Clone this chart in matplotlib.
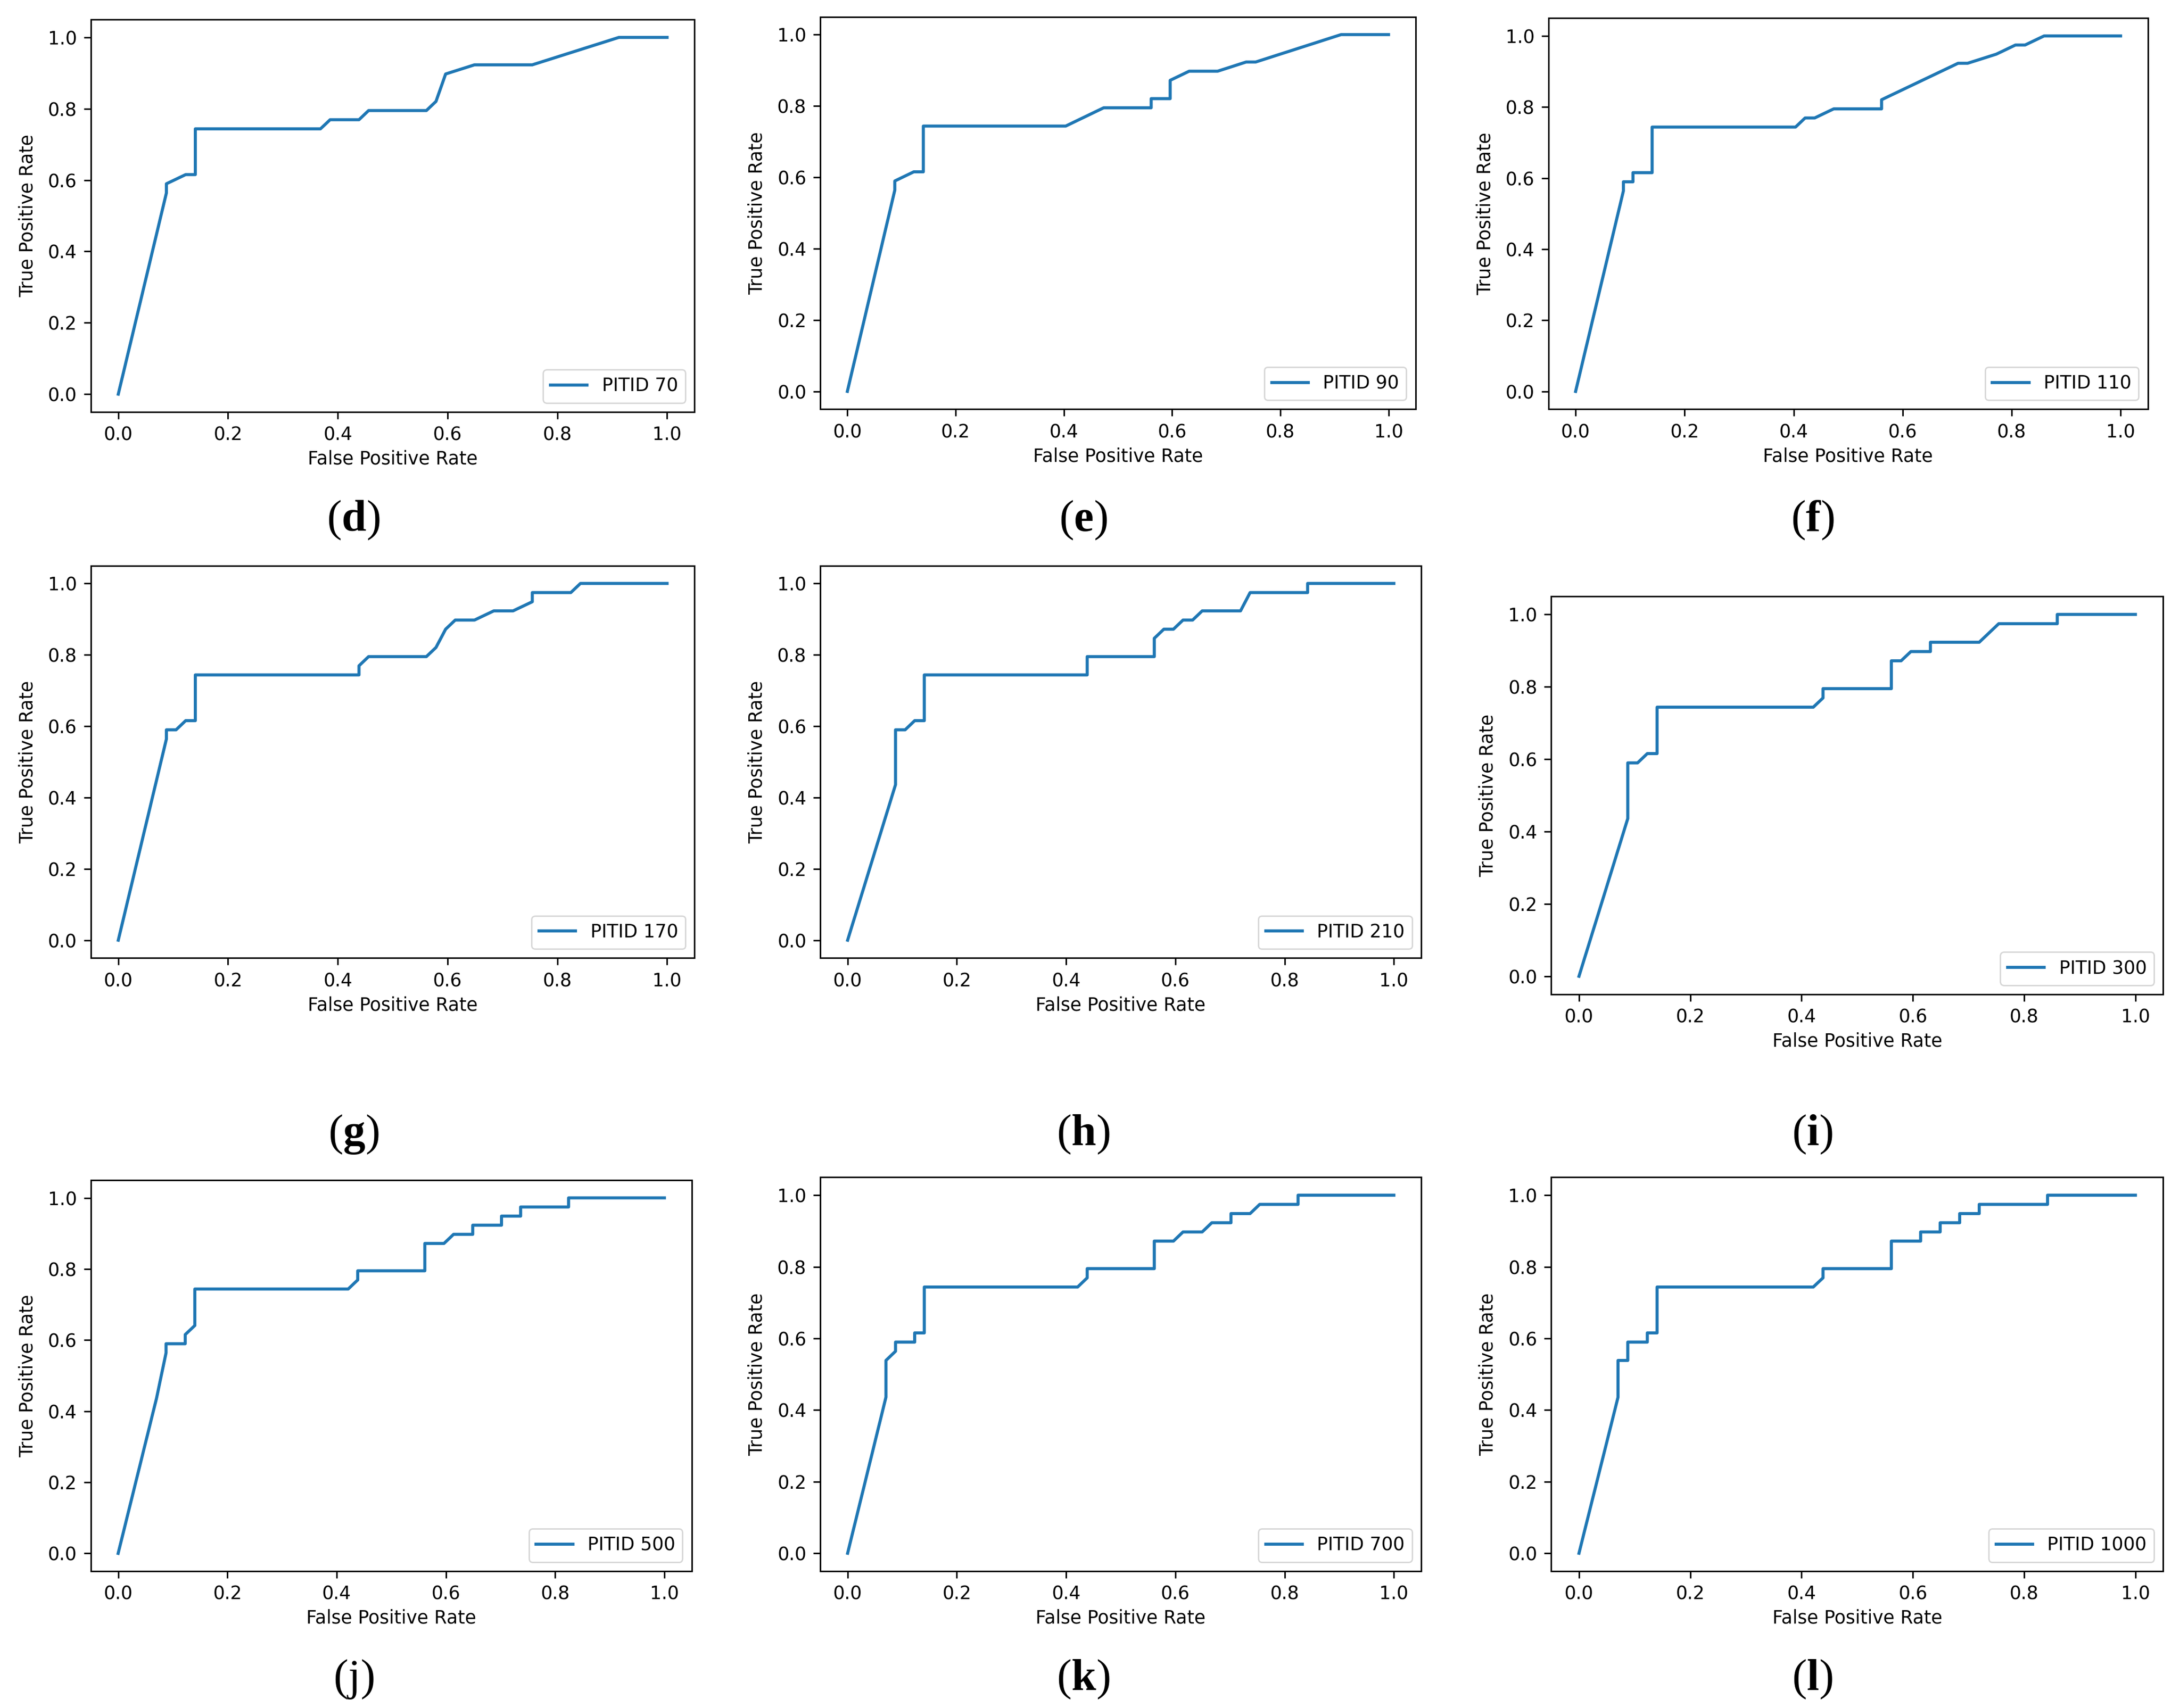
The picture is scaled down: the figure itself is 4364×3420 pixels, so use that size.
import matplotlib
matplotlib.use("Agg")
import matplotlib.pyplot as plt

# ROC points (fpr, tpr) for each PITID run
names = ["PITID 70", "PITID 90", "PITID 110", "PITID 170", "PITID 210",
         "PITID 300", "PITID 500", "PITID 700", "PITID 1000"]
letters = ["d", "e", "f", "g", "h", "i", "j", "k", "l"]

fpr_70 = [0, 0.0877, 0.0877, 0.1228, 0.1404, 0.1404, 0.3684, 0.3860, 0.4386, 0.4561,
          0.5614, 0.5789, 0.5965, 0.6491, 0.7544, 0.9123, 1.0]
tpr_70 = [0, 0.5641, 0.5897, 0.6154, 0.6154, 0.7436, 0.7436, 0.7692, 0.7692, 0.7949,
          0.7949, 0.8205, 0.8974, 0.9231, 0.9231, 1.0, 1.0]

fpr_90 = [0, 0.0877, 0.0877, 0.1228, 0.1404, 0.1404, 0.4035, 0.4737, 0.5614, 0.5614,
          0.5965, 0.5965, 0.6316, 0.6842, 0.7368, 0.7544, 0.9123, 1.0]
tpr_90 = [0, 0.5641, 0.5897, 0.6154, 0.6154, 0.7436, 0.7436, 0.7949, 0.7949, 0.8205,
          0.8205, 0.8718, 0.8974, 0.8974, 0.9231, 0.9231, 1.0, 1.0]

fpr_110 = [0, 0.0877, 0.0877, 0.1053, 0.1053, 0.1404, 0.1404, 0.4035, 0.4211, 0.4386,
           0.4737, 0.5614, 0.5614, 0.7018, 0.7193, 0.7719, 0.8070, 0.8246, 0.8596, 1.0]
tpr_110 = [0, 0.5641, 0.5897, 0.5897, 0.6154, 0.6154, 0.7436, 0.7436, 0.7692, 0.7692,
           0.7949, 0.7949, 0.8205, 0.9231, 0.9231, 0.9487, 0.9744, 0.9744, 1.0, 1.0]

fpr_170 = [0, 0.0877, 0.0877, 0.1053, 0.1228, 0.1404, 0.1404, 0.4386, 0.4386, 0.4561,
           0.5614, 0.5789, 0.5965, 0.6140, 0.6491, 0.6842, 0.7193, 0.7544, 0.7544,
           0.8246, 0.8421, 1.0]
tpr_170 = [0, 0.5641, 0.5897, 0.5897, 0.6154, 0.6154, 0.7436, 0.7436, 0.7692, 0.7949,
           0.7949, 0.8205, 0.8718, 0.8974, 0.8974, 0.9231, 0.9231, 0.9487, 0.9744,
           0.9744, 1.0, 1.0]

fpr_210 = [0, 0.0877, 0.0877, 0.1053, 0.1228, 0.1404, 0.1404, 0.4386, 0.4386, 0.5614,
           0.5614, 0.5789, 0.5965, 0.6140, 0.6316, 0.6491, 0.7193, 0.7368, 0.8421,
           0.8421, 1.0]
tpr_210 = [0, 0.4359, 0.5897, 0.5897, 0.6154, 0.6154, 0.7436, 0.7436, 0.7949, 0.7949,
           0.8462, 0.8718, 0.8718, 0.8974, 0.8974, 0.9231, 0.9231, 0.9744, 0.9744,
           1.0, 1.0]

fpr_300 = [0, 0.0877, 0.0877, 0.1053, 0.1228, 0.1404, 0.1404, 0.4211, 0.4386, 0.4386,
           0.5614, 0.5614, 0.5789, 0.5965, 0.6316, 0.6316, 0.7193, 0.7544, 0.8596,
           0.8596, 1.0]
tpr_300 = [0, 0.4359, 0.5897, 0.5897, 0.6154, 0.6154, 0.7436, 0.7436, 0.7692, 0.7949,
           0.7949, 0.8718, 0.8718, 0.8974, 0.8974, 0.9231, 0.9231, 0.9744, 0.9744,
           1.0, 1.0]

fpr_500 = [0, 0.0702, 0.0877, 0.0877, 0.1228, 0.1228, 0.1404, 0.1404, 0.4211, 0.4386,
           0.4386, 0.5614, 0.5614, 0.5965, 0.6140, 0.6491, 0.6491, 0.7018, 0.7018,
           0.7368, 0.7368, 0.8246, 0.8246, 1.0]
tpr_500 = [0, 0.4359, 0.5641, 0.5897, 0.5897, 0.6154, 0.6410, 0.7436, 0.7436, 0.7692,
           0.7949, 0.7949, 0.8718, 0.8718, 0.8974, 0.8974, 0.9231, 0.9231, 0.9487,
           0.9487, 0.9744, 0.9744, 1.0, 1.0]

fpr_700 = [0, 0.0702, 0.0702, 0.0877, 0.0877, 0.1228, 0.1228, 0.1404, 0.1404, 0.4211,
           0.4386, 0.4386, 0.5614, 0.5614, 0.5965, 0.6140, 0.6491, 0.6667, 0.7018,
           0.7018, 0.7368, 0.7544, 0.8246, 0.8246, 1.0]
tpr_700 = [0, 0.4359, 0.5385, 0.5641, 0.5897, 0.5897, 0.6154, 0.6154, 0.7436, 0.7436,
           0.7692, 0.7949, 0.7949, 0.8718, 0.8718, 0.8974, 0.8974, 0.9231, 0.9231,
           0.9487, 0.9487, 0.9744, 0.9744, 1.0, 1.0]

fpr_1000 = [0, 0.0702, 0.0702, 0.0877, 0.0877, 0.1228, 0.1228, 0.1404, 0.1404, 0.4211,
            0.4386, 0.4386, 0.5614, 0.5614, 0.6140, 0.6140, 0.6491, 0.6491, 0.6842,
            0.6842, 0.7193, 0.7193, 0.8421, 0.8421, 1.0]
tpr_1000 = [0, 0.4359, 0.5385, 0.5385, 0.5897, 0.5897, 0.6154, 0.6154, 0.7436, 0.7436,
            0.7692, 0.7949, 0.7949, 0.8718, 0.8718, 0.8974, 0.8974, 0.9231, 0.9231,
            0.9487, 0.9487, 0.9744, 0.9744, 1.0, 1.0]

fprs = [fpr_70, fpr_90, fpr_110, fpr_170, fpr_210, fpr_300, fpr_500, fpr_700, fpr_1000]
tprs = [tpr_70, tpr_90, tpr_110, tpr_170, tpr_210, tpr_300, tpr_500, tpr_700, tpr_1000]

plt.rcParams['mathtext.fontset'] = 'custom'
plt.rcParams['mathtext.rm'] = 'Liberation Serif'
plt.rcParams['mathtext.bf'] = 'Liberation Serif:bold'

W, H = 1560.0, 1223.0   # layout measured on a 1560x1223 view of the page
# left, right, top, bottom of each axes box
boxes = [(65, 497, 14, 295), (587, 1013, 12, 293), (1108, 1537, 13, 293),
         (65, 497, 405, 686), (587, 1017, 405, 686), (1110, 1548, 427, 712),
         (65, 495, 845, 1125), (587, 1017, 843, 1125), (1110, 1548, 843, 1125)]
label_x = [253, 775, 1297]
label_y = [372, 812, 1202]

fig = plt.figure(figsize=(21.82, 17.10), dpi=200)
fs = 13.2

for i in range(9):
    l, r, t, b = boxes[i]
    ax = fig.add_axes([l / W, 1 - b / H, (r - l) / W, (b - t) / H])
    ax.plot(fprs[i], tprs[i], color='#1f77b4', lw=2.2, label=names[i])
    ax.set_xticks([0, 0.2, 0.4, 0.6, 0.8, 1.0])
    ax.set_yticks([0, 0.2, 0.4, 0.6, 0.8, 1.0])
    ax.tick_params(labelsize=fs, length=5, width=1.1, pad=5)
    for s in ax.spines.values():
        s.set_linewidth(1.1)
    ax.set_xlabel('False Positive Rate', fontsize=fs, labelpad=4)
    ax.set_ylabel('True Positive Rate', fontsize=fs, labelpad=8)
    ax.legend(loc='lower right', fontsize=fs, handlelength=2.0)

for i in range(9):
    x = label_x[i % 3] / W
    y = 1 - label_y[i // 3] / H
    # the (j) label is set in regular weight in the original
    if letters[i] == 'j':
        s = r'$\mathrm{(j)}$'
    else:
        s = r'$\mathrm{(}\mathbf{%s}\mathrm{)}$' % letters[i]
    fig.text(x, y, s, fontsize=32, ha='center', va='center')

fig.savefig('out.png', dpi=200, facecolor='white')
